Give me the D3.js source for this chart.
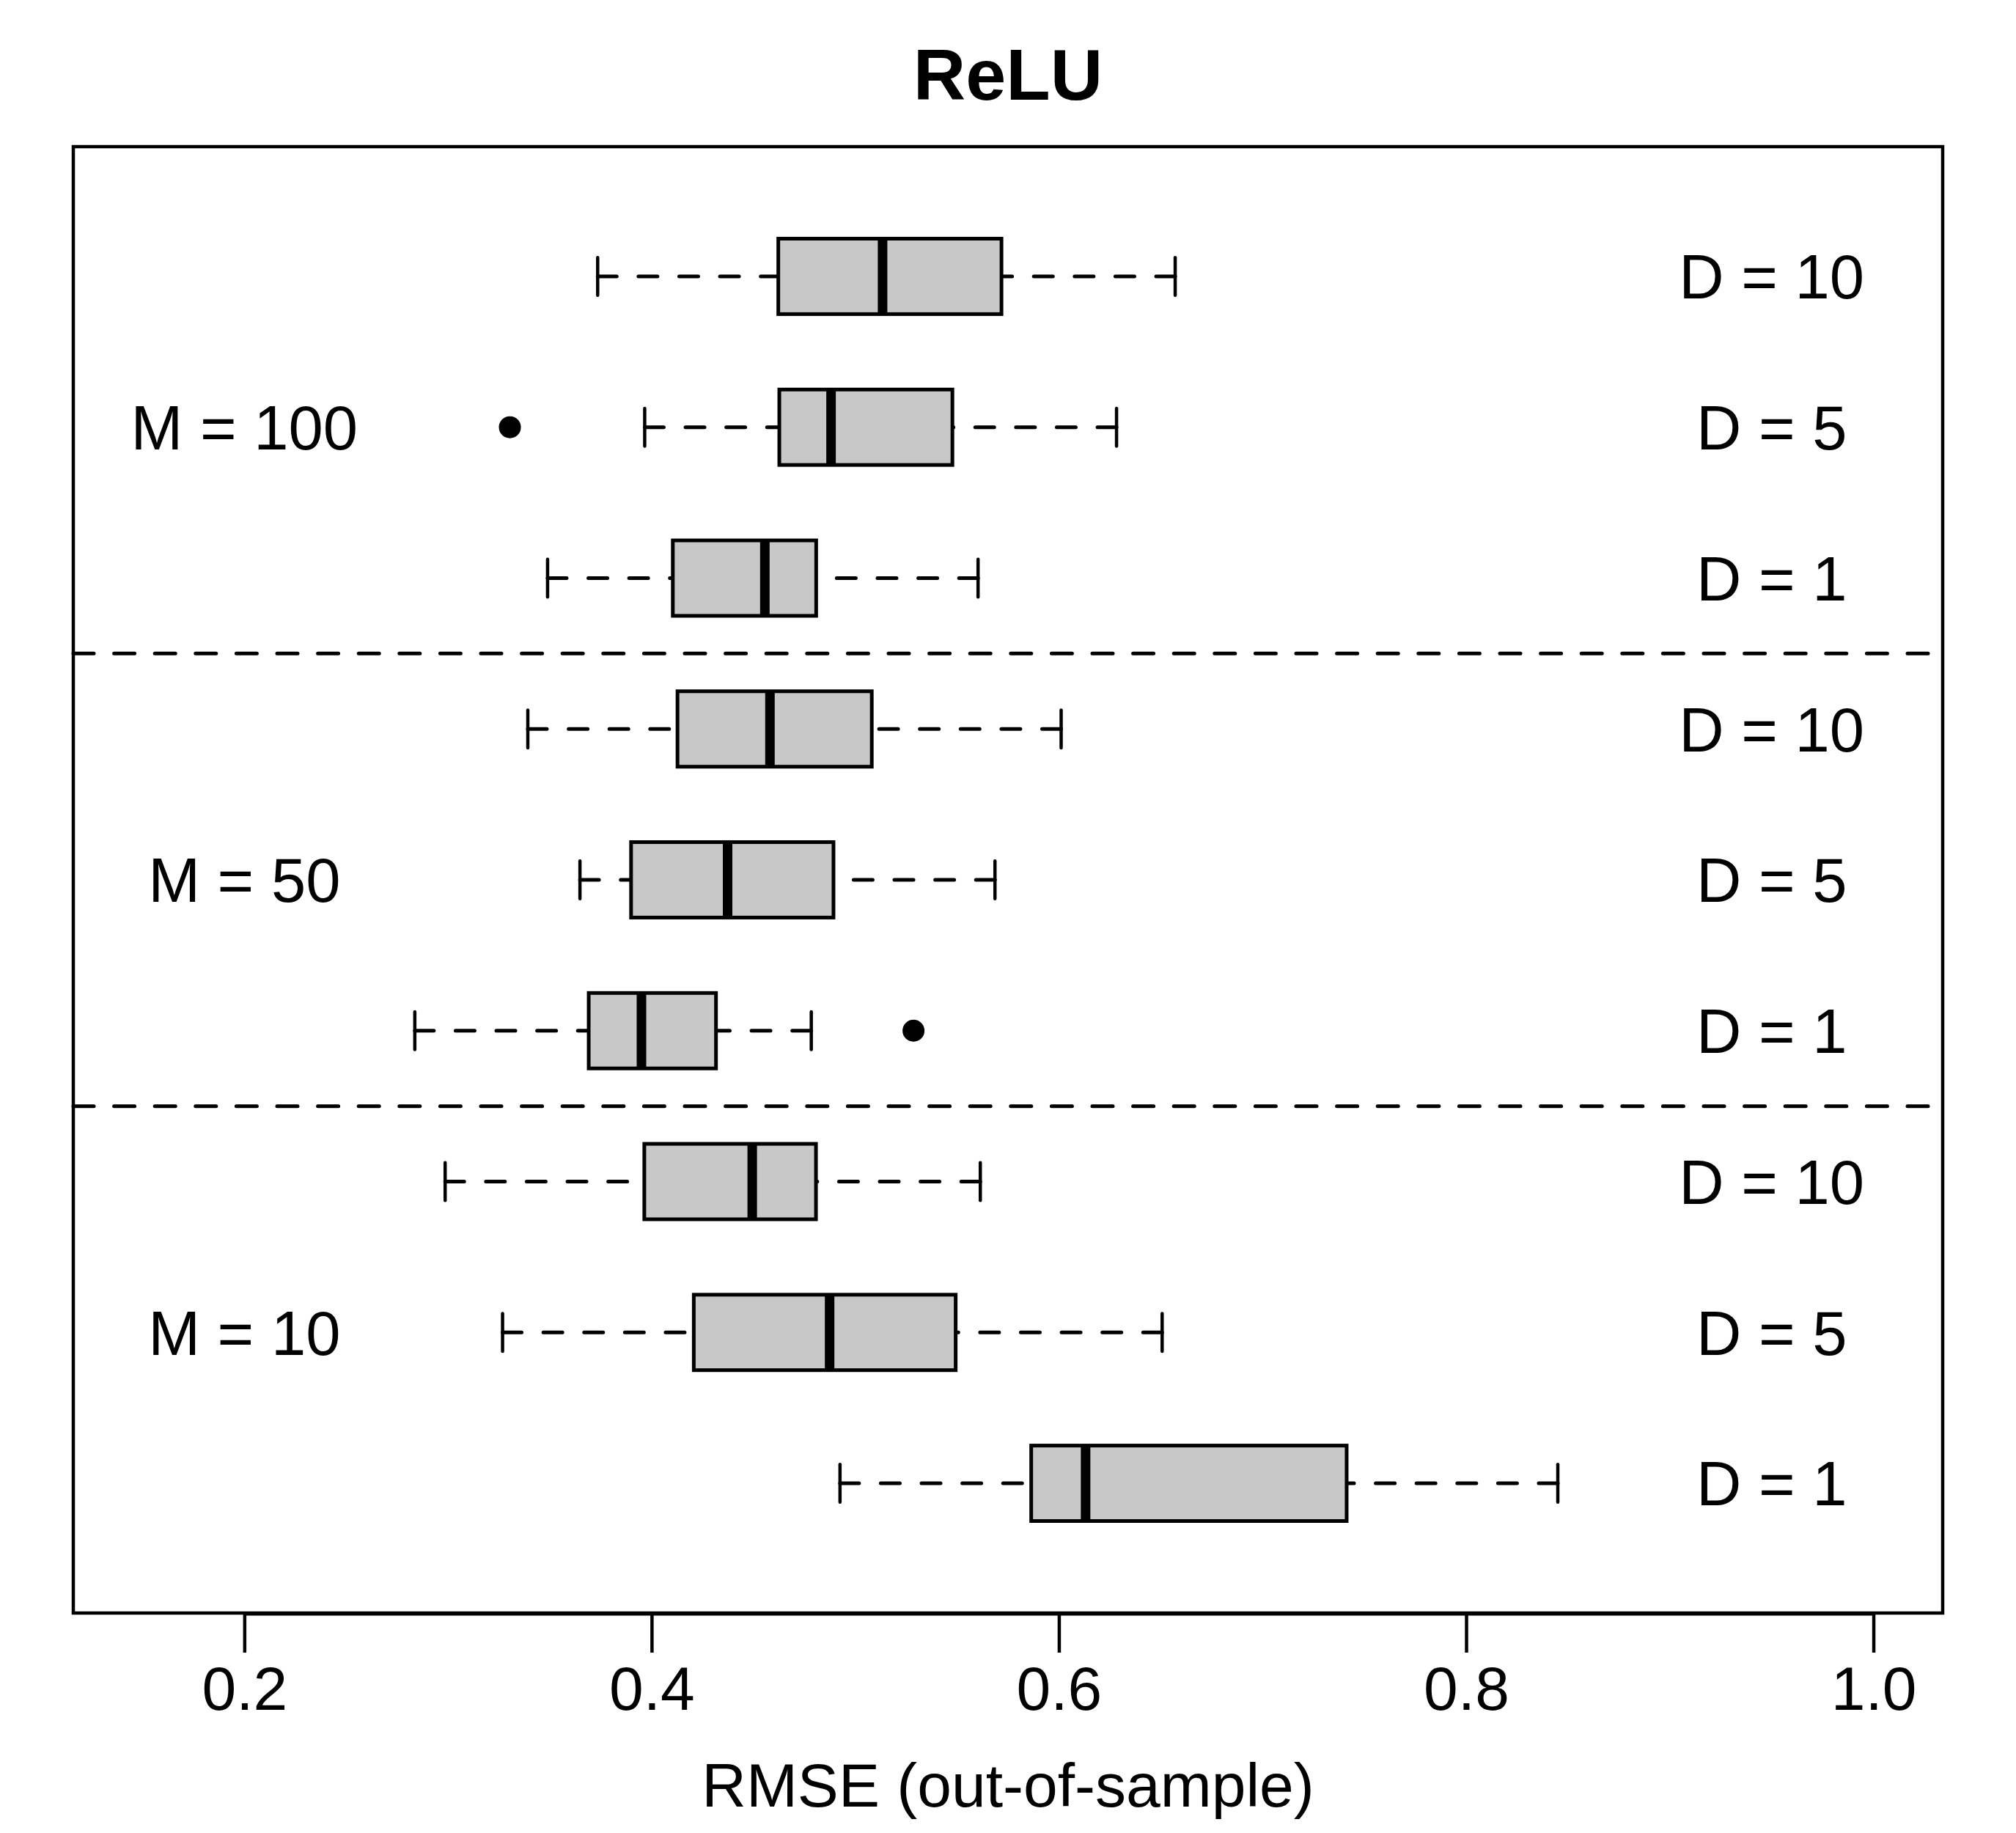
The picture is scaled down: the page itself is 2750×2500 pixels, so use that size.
<!DOCTYPE html>
<html>
<head>
<meta charset="utf-8">
<script src="https://cdn.jsdelivr.net/npm/d3@7"></script>
<style>
  body { margin: 0; background: #fff; }
  svg { display: block; font-family: "Liberation Sans", Arial, Helvetica, sans-serif; }
</style>
</head>
<body>
<svg id="chart" width="2750" height="2500"></svg>
<script>
// Box stats, top row first (M = 100 / D = 10 ... M = 10 / D = 1)
const groups = ["M = 100", "M = 50", "M = 10"];
const dims = ["D = 10", "D = 5", "D = 1"];
const lowerWhisker = [0.3735, 0.3966, 0.3489, 0.3392, 0.3648, 0.2837, 0.2986, 0.3268, 0.4925];
const q1 = [0.4622, 0.4627, 0.4104, 0.4127, 0.3899, 0.3691, 0.3964, 0.4207, 0.5864];
const median = [0.5134, 0.4881, 0.4556, 0.4581, 0.4373, 0.3950, 0.4494, 0.4874, 0.6131];
const q3 = [0.5718, 0.5477, 0.4808, 0.5081, 0.4893, 0.4316, 0.4807, 0.5493, 0.7413];
const upperWhisker = [0.6571, 0.6283, 0.5603, 0.6011, 0.5686, 0.4784, 0.5614, 0.6507, 0.8450];
const outliers = [[], [0.3304], [], [], [], [0.5286], [], [], []];
const xTicks = [0.2, 0.4, 0.6, 0.8, 1.0];

const svg = d3.select("#chart");
const plotLeft = 100, plotRight = 2650, plotTop = 200, plotBottom = 2200;

// R-style limits: xlim c(0.15, 1) and 9 boxes, both padded by 4%
const x = d3.scaleLinear().domain([0.116, 1.034]).range([plotLeft, plotRight]);
const y = d3.scaleLinear().domain([0.14, 9.86]).range([plotBottom, plotTop]);

const boxes = lowerWhisker.map((lw, i) => ({
  pos: 9 - i,
  lw: lw, q1: q1[i], med: median[i], q3: q3[i], uw: upperWhisker[i],
  out: outliers[i]
}));

const halfBox = y(0) - y(0.25);
const halfStaple = y(0) - y(0.125);

// group separators
svg.selectAll(".sep")
  .data([3.5, 6.5])
  .enter()
  .append("line")
  .attr("x1", plotLeft).attr("x2", plotRight)
  .attr("y1", (d) => y(d)).attr("y2", (d) => y(d))
  .attr("stroke", "#000")
  .attr("stroke-width", 5)
  .attr("stroke-dasharray", "28 27.6")
  .attr("stroke-linecap", "round");

const g = svg.selectAll(".box")
  .data(boxes)
  .enter()
  .append("g");

// whiskers: drawn from the whisker end toward the box, like bxp()
g.append("line")
  .attr("x1", (d) => x(d.lw)).attr("x2", (d) => x(d.q1))
  .attr("y1", (d) => y(d.pos)).attr("y2", (d) => y(d.pos));
g.append("line")
  .attr("x1", (d) => x(d.uw)).attr("x2", (d) => x(d.q3))
  .attr("y1", (d) => y(d.pos)).attr("y2", (d) => y(d.pos));
g.selectAll("line")
  .attr("stroke", "#000")
  .attr("stroke-width", 5)
  .attr("stroke-dasharray", "26 29.6")
  .attr("stroke-linecap", "round");

// staples
["lw", "uw"].forEach((k) => {
  g.append("line")
    .attr("x1", (d) => x(d[k])).attr("x2", (d) => x(d[k]))
    .attr("y1", (d) => y(d.pos) - halfStaple).attr("y2", (d) => y(d.pos) + halfStaple)
    .attr("stroke", "#000")
    .attr("stroke-width", 4.5)
    .attr("stroke-linecap", "round");
});

g.append("rect")
  .attr("x", (d) => x(d.q1))
  .attr("width", (d) => x(d.q3) - x(d.q1))
  .attr("y", (d) => y(d.pos) - halfBox)
  .attr("height", 2 * halfBox)
  .attr("fill", "#c8c8c8")
  .attr("stroke", "#000")
  .attr("stroke-width", 5);

g.append("line")
  .attr("x1", (d) => x(d.med)).attr("x2", (d) => x(d.med))
  .attr("y1", (d) => y(d.pos) - halfBox).attr("y2", (d) => y(d.pos) + halfBox)
  .attr("stroke", "#000")
  .attr("stroke-width", 13);

g.selectAll(".out")
  .data((d) => d.out.map((v) => ({ v: v, pos: d.pos })))
  .enter()
  .append("circle")
  .attr("cx", (d) => x(d.v))
  .attr("cy", (d) => y(d.pos))
  .attr("r", 15)
  .attr("fill", "#000");

// labels inside the plot
svg.selectAll(".dlab")
  .data(boxes)
  .enter()
  .append("text")
  .attr("x", x(0.95))
  .attr("y", (d) => y(d.pos))
  .attr("dy", "0.358em")
  .attr("text-anchor", "middle")
  .attr("font-size", 85)
  .text((d, i) => dims[i % 3]);

svg.selectAll(".mlab")
  .data(groups)
  .enter()
  .append("text")
  .attr("x", x(0.2))
  .attr("y", (d, i) => y(8 - 3 * i))
  .attr("dy", "0.358em")
  .attr("text-anchor", "middle")
  .attr("font-size", 85)
  .text((d) => d);

// frame
svg.append("rect")
  .attr("x", plotLeft).attr("y", plotTop)
  .attr("width", plotRight - plotLeft).attr("height", plotBottom - plotTop)
  .attr("fill", "none")
  .attr("stroke", "#000")
  .attr("stroke-width", 4.5);

// x axis
const axis = svg.append("g")
  .attr("transform", `translate(0, ${plotBottom + 1})`)
  .call(d3.axisBottom(x).tickValues(xTicks).tickFormat(d3.format(".1f")).tickSize(53));
axis.select(".domain").remove();
axis.selectAll(".tick line").attr("stroke", "#000").attr("stroke-width", 4.5);
axis.selectAll(".tick text")
  .attr("y", 131)
  .attr("dy", null)
  .attr("fill", "#000")
  .attr("font-size", 84);
axis.attr("font-family", null).attr("font-size", null);
axis.append("line")
  .attr("x1", x(xTicks[0])).attr("x2", x(xTicks[xTicks.length - 1]))
  .attr("stroke", "#000")
  .attr("stroke-width", 5);

svg.append("text")
  .attr("x", (plotLeft + plotRight) / 2)
  .attr("y", 2464)
  .attr("text-anchor", "middle")
  .attr("font-size", 84)
  .text("RMSE (out-of-sample)");

svg.append("text")
  .attr("x", 1375)
  .attr("y", 136)
  .attr("text-anchor", "middle")
  .attr("font-size", 99)
  .attr("font-weight", "bold")
  .text("ReLU");
</script>
</body>
</html>
